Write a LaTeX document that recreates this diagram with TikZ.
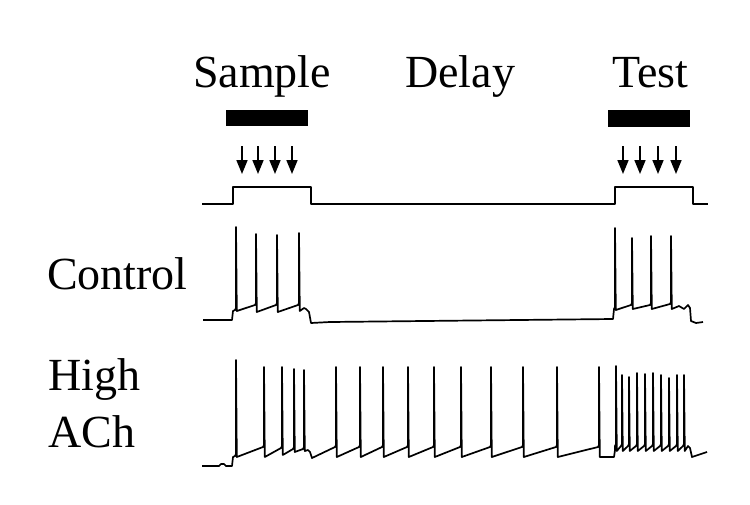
\documentclass[tikz,border=0pt]{standalone}
\usepackage{fontspec}
\setmainfont{Liberation Serif}
\usepackage[]{xcolor}
\usepackage{tikz}
\usetikzlibrary{arrows.meta}

\begin{document}
\begin{tikzpicture}[x=1pt,y=-1pt,
    lbl/.style={font=\fontsize{46}{50}\selectfont, anchor=base west, inner sep=0pt},
    trace/.style={line width=1.7pt, line join=round},
    stim/.style={line width=1.7pt, -{Triangle[width=11pt,length=14pt]}}]
      \useasboundingbox (0,0) rectangle (750,504);
      % epoch labels
      \node[lbl] (sample) at (193,87) {Sample};
      \node[lbl] (delay)  at (405,87) {Delay};
      \node[lbl] (test)   at (612,87) {Test};
      \node[lbl] (control) at (47,289) {Control};
      \node[lbl] (high)   at (48,390) {High};
      \node[lbl] (ach)    at (48,447) {ACh};
      % stimulus bars
      \fill[black] (226,110) rectangle (308,126);
      \fill[black] (608,110) rectangle (690,127);
      \foreach \x in {242,258,275,292,623,640,658,676}
        \draw[stim] (\x,146) -- (\x,174);
      % stimulus timing
      \draw[trace] (202,204) -- (233,204) -- (233,187) -- (311,187) -- (311,204)
        -- (615,204) -- (615,187) -- (693,187) -- (693,204) -- (708,204);
      % control
      \draw[trace] (203,320) -- (232,320) -- (233,311)
        \foreach \x/\p/\t/\b in {236/310/227/311, 256/305/234/312, 277/305/235/312, 299/305/233/311}
          { -- (\x-1,\p) -- (\x,\p-2) -- (\x,\t) -- (\x+0.8,\b) }
        -- (304,308) -- (306,309) -- (309,312) -- (311,323) -- (330,322) -- (613,319) -- (614,309)
        \foreach \x/\p/\t/\b in {615/309/228/310, 632/305/238/309, 651/305/236/309, 671/304/236/309}
          { -- (\x-1,\p) -- (\x,\p-2) -- (\x,\t) -- (\x+0.8,\b) }
        -- (679,306) -- (684,309) -- (688,305) -- (690,308) -- (691,321) -- (696,323) -- (703,322);
      % high ACh
      \draw[trace] (202,466) -- (219,466) -- (221,464) -- (224,464) -- (226,466) -- (232,466) -- (233,457)
        \foreach \x/\p/\t/\b in {236/456/360/457, 264/447/367/457, 282/448/367/455, 294/449/369/452, 304/449/370/451}
          { -- (\x-1,\p) -- (\x,\p-2) -- (\x,\t) -- (\x+0.8,\b) }
        -- (308,450) -- (310,452) -- (312,458)
        \foreach \x in {336,360,383,408,434,461,491,523,557,599}
          { -- (\x-1,447) -- (\x,445) -- (\x,367) -- (\x+0.8,457) }
        -- (614,457) -- (615,450)
        \foreach \x/\t in {616/366, 622/375, 629/377, 637/373, 645/374, 653/373, 661/375, 669/378, 677/375, 684/375}
          { -- (\x-1,446) -- (\x,444) -- (\x,\t) -- (\x+0.8,451) }
        -- (688,446) -- (690,448) -- (692,457) -- (707,452);
\end{tikzpicture}
\end{document}
